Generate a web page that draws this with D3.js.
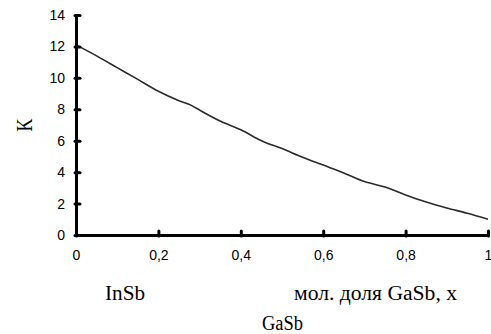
<!DOCTYPE html>
<html><head><meta charset="utf-8">
<script src="https://cdn.jsdelivr.net/npm/d3@7"></script>
<style>body{margin:0;background:#fff}svg{display:block}
.serif{font-family:'Liberation Serif','Times New Roman',Times,'DejaVu Serif',serif}
.sans{font-family:'Liberation Sans',Arial,Helvetica,sans-serif}
</style>
</head><body>
<svg id="c" width="491" height="334"></svg>
<script>
const xValues = [0, 0.05, 0.1, 0.15, 0.2, 0.25, 0.28, 0.3, 0.35, 0.4, 0.45, 0.5, 0.55, 0.6, 0.65, 0.7, 0.75, 0.8, 0.85, 0.9, 0.95, 1];
const kValues = [12.1, 11.4, 10.65, 9.9, 9.15, 8.55, 8.25, 7.95, 7.25, 6.7, 6.0, 5.5, 4.95, 4.45, 3.95, 3.4, 3.05, 2.55, 2.1, 1.72, 1.38, 1.0];
const xTicks = [0, 0.2, 0.4, 0.6, 0.8, 1];
const xTickLabels = ["0", "0,2", "0,4", "0,6", "0,8", "1"];
const yTicks = [0, 2, 4, 6, 8, 10, 12, 14];
const yLabel = "K";
const xLabelLeft = "InSb";
const xLabelRight = "мол. доля GaSb, x";
const xLabelBottom = "GaSb";

const svg = d3.select("#c");
const x = d3.scaleLinear().domain([0, 1]).range([76, 488]);
const y = d3.scaleLinear().domain([0, 14]).range([235, 15]);

// curve
const data = xValues.map((v, i) => ({x: v, k: kValues[i]}));
svg.append("path").datum(data)
  .attr("fill", "none").attr("stroke", "#2a2a2a").attr("stroke-width", 1.6)
  .attr("d", d3.line().x(d => x(d.x)).y(d => y(d.k)).curve(d3.curveMonotoneX));

// x axis
const xAxis = svg.append("g").attr("transform", `translate(0,${y(0)})`)
  .call(d3.axisBottom(x).tickValues(xTicks).tickFormat((d, i) => xTickLabels[i]).tickSize(0).tickPadding(15));
xAxis.attr("font-family", null).attr("font-size", null);
xAxis.select(".domain").attr("stroke", "#000").attr("stroke-width", 3);
xAxis.selectAll(".tick text").attr("class", "sans").style("font-size", "14px").attr("fill", "#000");
xAxis.selectAll(".tick").append("line").attr("y1", -4).attr("y2", 1).attr("stroke", "#000").attr("stroke-width", 3).attr("stroke-linecap", "round");

// y axis
const yAxis = svg.append("g").attr("transform", `translate(${x(0)},0)`)
  .call(d3.axisLeft(y).tickValues(yTicks).tickSize(0).tickPadding(11));
yAxis.attr("font-family", null).attr("font-size", null);
yAxis.select(".domain").attr("stroke", "#000").attr("stroke-width", 3);
yAxis.selectAll(".tick text").attr("class", "sans").style("font-size", "14px").attr("fill", "#000");
yAxis.selectAll(".tick").append("line").attr("x1", -1).attr("x2", 4).attr("stroke", "#000").attr("stroke-width", 3).attr("stroke-linecap", "round");

// labels
svg.append("text").attr("class", "serif").attr("transform", "translate(31.5,125) rotate(-90) scale(1,1.3)").attr("text-anchor", "middle")
  .style("font-size", "18px").text(yLabel);
svg.append("text").attr("class", "serif").attr("x", 105).attr("y", 299.5).style("font-size", "20px")
  .attr("textLength", 40).attr("lengthAdjust", "spacingAndGlyphs").text(xLabelLeft);
svg.append("text").attr("class", "serif").attr("x", 294).attr("y", 299.5).style("font-size", "20px")
  .attr("textLength", 163).attr("lengthAdjust", "spacingAndGlyphs").text(xLabelRight);
svg.append("text").attr("class", "serif").attr("x", 262).attr("y", 330).style("font-size", "20px")
  .attr("textLength", 41).attr("lengthAdjust", "spacingAndGlyphs").text(xLabelBottom);
</script>
</body></html>
